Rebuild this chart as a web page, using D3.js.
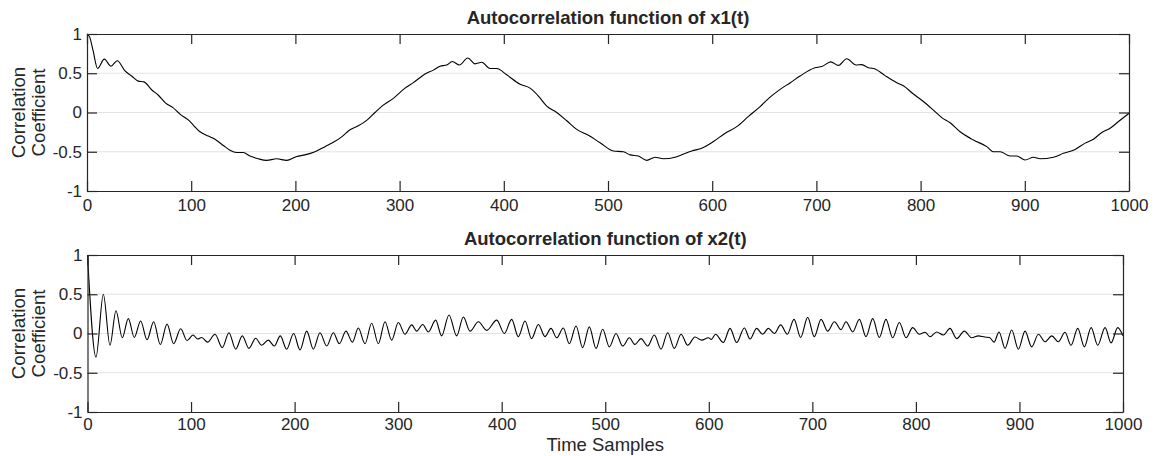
<!DOCTYPE html>
<html>
<head>
<meta charset="utf-8">
<script src="https://cdn.jsdelivr.net/npm/d3@7"></script>
<style>
body { margin: 0; background: #fff; }
text { font-family: "Liberation Sans", Arial, Helvetica, sans-serif; fill: #262626; }
</style>
</head>
<body>
<div id="chart"></div>
<script>
// tick labels
var xTicks = [0, 100, 200, 300, 400, 500, 600, 700, 800, 900, 1000];
var yTicks = [-1, -0.5, 0, 0.5, 1];

// autocorrelation of x1(t)
var lag1 = [0, 2.6, 5.8, 10.2, 16.6, 23, 29, 36.5, 42.8, 49.2, 54.7, 62, 68.5, 75.5, 82.2, 89.2, 97.2, 102, 108.4, 116.4,
  122.8, 130.8, 137.2, 143.6, 150, 156.4, 164.4, 172.4, 182, 191.6, 201.2, 209.2, 218.8, 228.4, 236.4, 244.4, 252.4, 260.4, 268.4, 276.4,
  284, 294, 305.2, 313.2, 324.4, 332.4, 338.8, 345.2, 350.6, 357.4, 365.4, 372.4, 378.8, 386.8, 393.2, 402.8, 415.6, 425.2, 433.2, 441.2,
  450.8, 460.4, 470, 481.2, 492.4, 505.2, 514.8, 521.2, 529.2, 537.2, 545.2, 553.2, 564.4, 572.4, 580.4, 590, 601.2, 612.4, 623.6, 634.8,
  646, 655, 665.2, 675, 684.3, 698.7, 705.1, 713.8, 721.1, 729.1, 738.1, 743.5, 749.9, 756.3, 765.9, 777.1, 783.5, 793.1, 802.7, 812.3,
  820.3, 828.3, 837.9, 850.7, 863.5, 869.9, 876.3, 885.9, 892.3, 900.3, 908.3, 914.7, 927.5, 937.1, 948.3, 957.9, 965.9, 973.9, 981.9, 989.9, 1000];
var acf1 = [1, 0.96, 0.79, 0.56, 0.68, 0.59, 0.66, 0.53, 0.465, 0.40, 0.39, 0.29, 0.22, 0.12, 0.065, -0.02, -0.095, -0.16, -0.245, -0.30,
  -0.34, -0.42, -0.48, -0.51, -0.51, -0.555, -0.59, -0.61, -0.59, -0.61, -0.56, -0.54, -0.5, -0.435, -0.38, -0.31, -0.22, -0.17, -0.1, 0.0,
  0.09, 0.18, 0.31, 0.38, 0.49, 0.54, 0.59, 0.605, 0.65, 0.605, 0.695, 0.62, 0.64, 0.56, 0.56, 0.48, 0.36, 0.31, 0.21, 0.08,
  0.0, -0.105, -0.215, -0.29, -0.385, -0.49, -0.5, -0.54, -0.555, -0.61, -0.57, -0.59, -0.57, -0.53, -0.49, -0.455, -0.37, -0.265, -0.18, -0.05,
  0.075, 0.19, 0.295, 0.38, 0.465, 0.57, 0.585, 0.645, 0.60, 0.685, 0.605, 0.61, 0.57, 0.555, 0.47, 0.38, 0.34, 0.235, 0.14, 0.03,
  -0.065, -0.13, -0.245, -0.35, -0.435, -0.5, -0.5, -0.555, -0.555, -0.605, -0.57, -0.59, -0.57, -0.52, -0.47, -0.39, -0.34, -0.255, -0.2, -0.115, -0.01];

// autocorrelation of x2(t), peaks and troughs
var lag2 = [0, 8.2, 15.3, 21.7, 27.5, 33.6, 39.4, 45.2, 51.3, 57.5, 63.9, 70.3, 76.8, 83.2, 90, 96.1, 101.9, 106.4, 110.3, 116,
  123.1, 130.2, 136.6, 143.1, 149.5, 155.9, 162.4, 168.2, 174.6, 180.4, 186.2, 192.3, 199.1, 205.2, 211.7, 218.1, 224.5, 231, 237.4, 243.2,
  249.6, 255.8, 261.5, 268, 274.4, 280.9, 287.3, 293.7, 300.2, 306.6, 313.1, 317.9, 323.7, 329.2, 336.2, 342, 349.1, 356.5, 363, 369.4,
  377.5, 385.5, 395.2, 402.6, 409.6, 416, 422.5, 428.9, 435.4, 441.8, 447.6, 453.1, 459.5, 465.3, 471.8, 478.2, 484.6, 491.1, 497.5, 504,
  510.4, 516.8, 523.3, 528.7, 534.5, 541, 547.4, 553.9, 560.3, 566.7, 573.2, 579.6, 586.7, 593.1, 599.6, 602.5, 606.5, 614, 620.5, 626.9,
  634.3, 639.8, 646.2, 652, 657.5, 663.3, 669.4, 675.8, 682.3, 688.7, 695.5, 701.9, 708.4, 714.8, 721.3, 727.7, 732.5, 739, 745.4, 751.8,
  758.3, 764.7, 771.1, 777.6, 784, 790.5, 796.9, 803.3, 808.8, 813.6, 820.1, 826.5, 832.9, 839.4, 846.8, 853.9, 860.3, 866.5, 871, 875.5,
  880.3, 886.1, 892.5, 899, 905.4, 911.8, 918.3, 924.7, 931.2, 937.6, 944, 949.8, 956.3, 962.7, 969.2, 975.6, 982.7, 988.5, 994.9, 1000];
var acf2 = [1, -0.30, 0.50, -0.15, 0.29, -0.055, 0.19, -0.05, 0.16, -0.08, 0.15, -0.14, 0.12, -0.13, 0.06, -0.09, -0.02, -0.07, -0.05, -0.11,
  -0.01, -0.18, 0.01, -0.2, -0.03, -0.19, -0.06, -0.15, -0.085, -0.16, -0.03, -0.2, 0.0, -0.21, 0.03, -0.2, 0.01, -0.16, 0.01, -0.13,
  0.03, -0.11, 0.07, -0.13, 0.13, -0.13, 0.15, -0.085, 0.14, -0.01, 0.11, 0.03, 0.115, 0.02, 0.17, -0.03, 0.235, -0.03, 0.21, 0.03,
  0.15, 0.04, 0.17, 0.0, 0.18, -0.04, 0.16, -0.065, 0.115, -0.04, 0.065, -0.055, 0.07, -0.13, 0.095, -0.18, 0.085, -0.19, 0.055, -0.17,
  0.0, -0.16, -0.055, -0.14, -0.065, -0.16, -0.02, -0.2, 0.01, -0.19, -0.01, -0.15, -0.045, -0.085, -0.055, -0.075, -0.01, -0.115, 0.065, -0.115,
  0.07, -0.07, 0.065, -0.01, 0.065, 0.0, 0.11, -0.01, 0.18, -0.05, 0.205, -0.04, 0.18, 0.03, 0.15, 0.05, 0.15, 0.02, 0.18, -0.04,
  0.19, -0.05, 0.18, -0.055, 0.14, -0.055, 0.075, -0.01, 0.015, -0.04, 0.02, -0.02, 0.065, -0.065, 0.03, -0.055, -0.03, -0.045, -0.05, -0.11,
  0.02, -0.19, 0.045, -0.2, 0.03, -0.17, -0.01, -0.105, -0.03, -0.105, 0.015, -0.15, 0.065, -0.17, 0.075, -0.15, 0.075, -0.12, 0.075, -0.03];

var titles = ["Autocorrelation function of x1(t)", "Autocorrelation function of x2(t)"];

var svg = d3.select("#chart")
  .append("svg")
    .attr("width", 1155)
    .attr("height", 456)
    .style("background", "#fff");

function drawPanel(box, lags, vals, title, xlabel, pad) {
  var x = d3.scaleLinear().domain([0, 1000]).range([box.left, box.right]);
  var y = d3.scaleLinear().domain([-1, 1]).range([box.bottom, box.top]);
  var g = svg.append("g");

  // horizontal grid
  g.append("g").selectAll("line")
    .data(yTicks.filter(function (d) { return d > -1 && d < 1; }))
    .enter()
    .append("line")
      .attr("x1", box.left).attr("x2", box.right)
      .attr("y1", function (d) { return y(d); })
      .attr("y2", function (d) { return y(d); })
      .attr("stroke", "#262626")
      .attr("stroke-opacity", 0.13)
      .attr("stroke-width", 1.2);

  // the curve
  var line = d3.line()
    .x(function (d) { return x(d[0]); })
    .y(function (d) { return y(d[1]); })
    .curve(d3.curveMonotoneX);
  g.append("path")
    .datum(d3.zip(lags, vals))
    .attr("fill", "none")
    .attr("stroke", "#000")
    .attr("stroke-width", 1.1)
    .attr("d", line);

  // axes, ticks pointing inward on all four sides
  var fmt = function (d) { return String(d); };
  var bottom = g.append("g")
    .attr("transform", "translate(0," + box.bottom + ")")
    .call(d3.axisBottom(x).tickValues(xTicks).tickFormat(fmt).tickSizeInner(-10).tickSizeOuter(0).tickPadding(pad));
  var top = g.append("g")
    .attr("transform", "translate(0," + box.top + ")")
    .call(d3.axisTop(x).tickValues(xTicks).tickFormat("").tickSizeInner(-10).tickSizeOuter(0));
  var left = g.append("g")
    .attr("transform", "translate(" + box.left + ",0)")
    .call(d3.axisLeft(y).tickValues(yTicks).tickFormat(fmt).tickSizeInner(-10).tickSizeOuter(0).tickPadding(5));
  var right = g.append("g")
    .attr("transform", "translate(" + box.right + ",0)")
    .call(d3.axisRight(y).tickValues(yTicks).tickFormat("").tickSizeInner(-10).tickSizeOuter(0));

  [bottom, top, left, right].forEach(function (a) {
    a.select(".domain").attr("stroke", "#262626").attr("stroke-width", 1.2);
    a.selectAll(".tick line").attr("stroke", "#262626").attr("stroke-width", 1.2);
    a.selectAll("text")
      .attr("fill", "#262626")
      .style("font-size", "17px")
      .style("font-family", "'Liberation Sans', Arial, sans-serif");
  });

  // title
  g.append("text")
    .attr("x", (box.left + box.right) / 2)
    .attr("y", box.top - 10)
    .attr("text-anchor", "middle")
    .style("font-size", "18.5px")
    .style("font-weight", "bold")
    .text(title);

  // y label, two lines
  var cy = (box.top + box.bottom) / 2;
  ["Correlation", "Coefficient"].forEach(function (s, i) {
    g.append("text")
      .attr("transform", "translate(" + (25 + i * 20) + "," + cy + ") rotate(-90)")
      .attr("text-anchor", "middle")
      .style("font-size", "18.7px")
      .text(s);
  });

  if (xlabel) {
    g.append("text")
      .attr("x", (box.left + box.right) / 2)
      .attr("y", 451)
      .attr("text-anchor", "middle")
      .style("font-size", "18.5px")
      .text(xlabel);
  }
}

drawPanel({left: 87, right: 1129, top: 34, bottom: 191}, lag1, acf1, titles[0], null, 8);
drawPanel({left: 87.5, right: 1123, top: 255, bottom: 412}, lag2, acf2, titles[1], "Time Samples", 6);
</script>
</body>
</html>
